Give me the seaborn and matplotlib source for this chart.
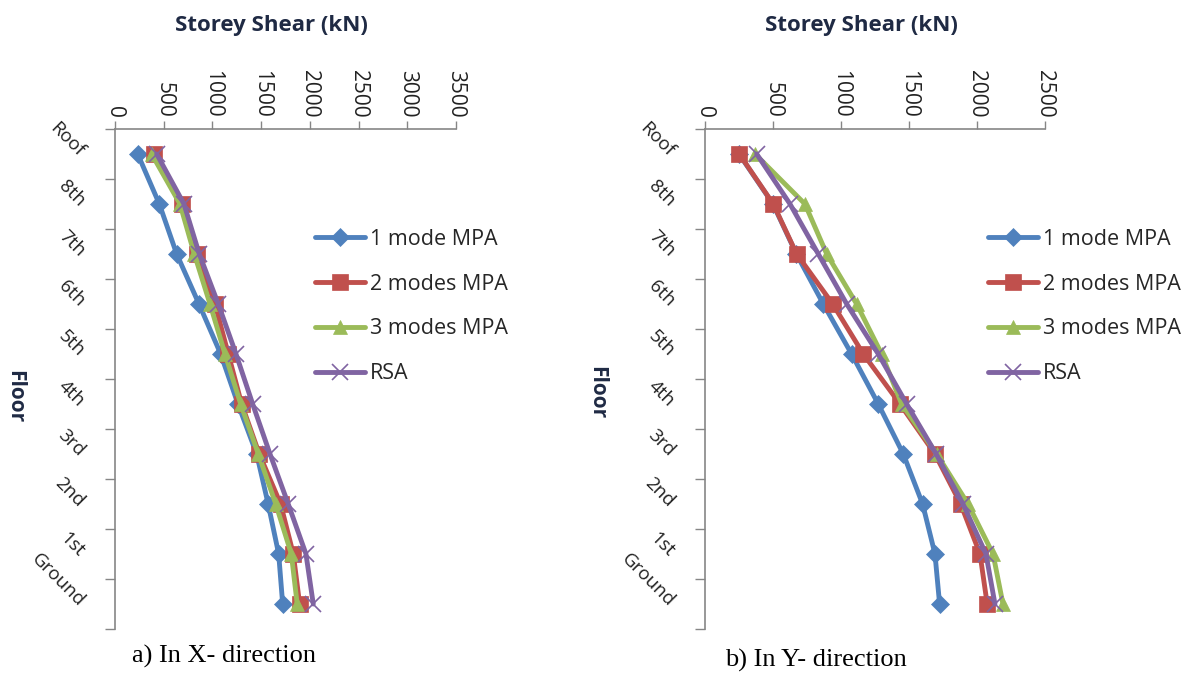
import numpy as np
import pandas as pd
import matplotlib
matplotlib.use("Agg")
import matplotlib.pyplot as plt
import seaborn as sns

floors = ["Roof", "8th", "7th", "6th", "5th", "4th", "3rd", "2nd", "1st", "Ground"]
series_names = ["1 mode MPA", "2 modes MPA", "3 modes MPA", "RSA"]

# X-direction storey shear (kN)
mpa1_x = [233, 455, 633, 862, 1085, 1262, 1454, 1572, 1680, 1721]
mpa2_x = [404, 684, 838, 1026, 1163, 1300, 1481, 1700, 1830, 1895]
mpa3_x = [376, 667, 814, 975, 1129, 1290, 1471, 1650, 1810, 1870]
rsa_x = [428, 708, 865, 1060, 1242, 1413, 1591, 1778, 1960, 2035]

# Y-direction storey shear (kN)
mpa1_y = [250, 500, 672, 870, 1078, 1274, 1458, 1600, 1691, 1725]
mpa2_y = [252, 502, 674, 939, 1164, 1434, 1691, 1880, 2022, 2075]
mpa3_y = [368, 735, 895, 1115, 1299, 1446, 1704, 1934, 2118, 2191]
rsa_y = [380, 625, 833, 1042, 1274, 1483, 1700, 1897, 2066, 2132]

xticks_x = [0, 500, 1000, 1500, 2000, 2500, 3000, 3500]
xticks_y = [0, 500, 1000, 1500, 2000, 2500]

sns.set_theme(style="white")
plt.rcParams["font.family"] = ["Open Sans", "DejaVu Sans"]

colors = ["#4F81BD", "#C0504D", "#9BBB59", "#8064A2"]
markers = ["D", "s", "^", "x"]
msizes = [9.5, 11.5, 10.5, 12]
mews = [0.5, 0.5, 0.5, 1.2]
axis_gray = "#868686"
title_col = "#1F2A44"

fig = plt.figure(figsize=(11.99, 6.75), dpi=100)
axL = fig.add_axes([115 / 1199, 1 - 629 / 675, 341 / 1199, 500 / 675])
axR = fig.add_axes([705 / 1199, 1 - 629 / 675, 340 / 1199, 500 / 675])


def draw(ax, series, xticks, leg_x):
    pos = np.arange(len(floors))
    for name, vals, c, m, ms, mew in zip(series_names, series, colors, markers, msizes, mews):
        df = pd.DataFrame({"shear": vals, "pos": pos})
        sns.lineplot(data=df, x="shear", y="pos", sort=False, estimator=None, ax=ax,
                     color=c, lw=3.5, marker=m, markersize=ms, markeredgecolor=c,
                     markeredgewidth=mew, label=name)
    ax.set_xlim(xticks[0], xticks[-1])
    ax.set_ylim(len(floors) - 0.5, -0.5)
    ax.set_xlabel("")
    ax.set_ylabel("")
    ax.xaxis.tick_top()
    ax.set_xticks(xticks)
    ax.set_xticklabels([str(t) for t in xticks])
    ax.tick_params(axis="x", direction="out", length=6, width=1, color=axis_gray,
                   labelrotation=-90, labelsize=15, pad=2, top=True, bottom=False,
                   labelcolor="#222222")
    ax.set_yticks(np.arange(-0.5, len(floors), 1.0))
    ax.set_yticklabels([])
    ax.set_yticks(pos, minor=True)
    ax.set_yticklabels(floors, minor=True)
    ax.tick_params(axis="y", which="major", direction="out", length=7, width=1,
                   color=axis_gray, left=True)
    ax.tick_params(axis="y", which="minor", length=0, pad=24, labelsize=13.5,
                   labelcolor="#222222", left=True)
    for lab in ax.get_yticklabels(minor=True):
        lab.set_rotation(-45)
        lab.set_rotation_mode("anchor")
        lab.set_ha("right")
        lab.set_va("center")
    for s in ["right", "bottom"]:
        ax.spines[s].set_visible(False)
    for s in ["top", "left"]:
        ax.spines[s].set_color(axis_gray)
        ax.spines[s].set_linewidth(1.2)
    ax.grid(False)
    ax.legend(loc="upper left", bbox_to_anchor=(leg_x, 1 - 229 / 675),
              bbox_transform=fig.transFigure, frameon=False, fontsize=15.5,
              handlelength=2.3, handletextpad=0.25, labelspacing=1.1,
              borderaxespad=0, borderpad=0)


draw(axL, [mpa1_x, mpa2_x, mpa3_x, rsa_x], xticks_x, 315 / 1199)
draw(axR, [mpa1_y, mpa2_y, mpa3_y, rsa_y], xticks_y, 988 / 1199)

fig.text(271 / 1199, 1 - 25 / 675, "Storey Shear (kN)", ha="center", va="center",
         fontsize=16, fontweight="bold", color=title_col)
fig.text(861 / 1199, 1 - 25 / 675, "Storey Shear (kN)", ha="center", va="center",
         fontsize=16, fontweight="bold", color=title_col)
fig.text(15 / 1199, 1 - 397 / 675, "Floor", rotation=-90, ha="center", va="center",
         fontsize=15, fontweight="bold", color=title_col)
fig.text(597 / 1199, 1 - 393 / 675, "Floor", rotation=-90, ha="center", va="center",
         fontsize=15, fontweight="bold", color=title_col)
fig.text(224 / 1199, 1 - 656 / 675, "a) In X- direction", ha="center", va="center",
         fontsize=19, family="Liberation Serif", color="black")
fig.text(816 / 1199, 1 - 660 / 675, "b) In Y- direction", ha="center", va="center",
         fontsize=19, family="Liberation Serif", color="black")

fig.savefig("out.png", dpi=100)
